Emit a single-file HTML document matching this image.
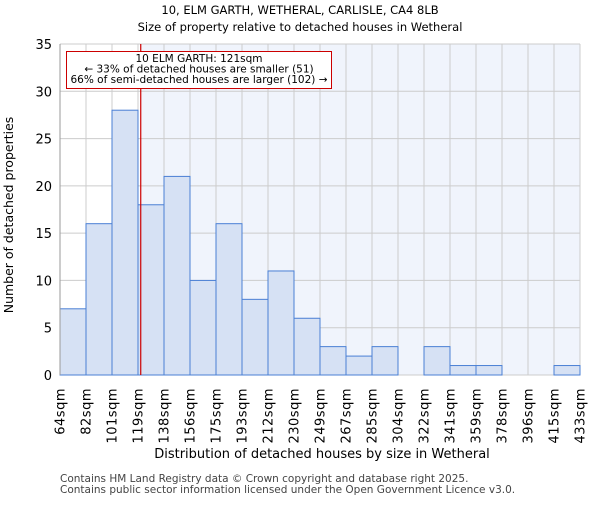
<!DOCTYPE html>
<html><head><meta charset="utf-8"><style>body{margin:0;background:#fff}svg{font-family:"DejaVu Sans","Liberation Sans",sans-serif}</style></head>
<body>
<svg id="c" width="600" height="500" xmlns="http://www.w3.org/2000/svg">
<text x="300" y="14" text-anchor="middle" font-size="11.5">10, ELM GARTH, WETHERAL, CARLISLE, CA4 8LB</text>
<text x="300" y="31" text-anchor="middle" font-size="11.5">Size of property relative to detached houses in Wetheral</text>
<g id="plot"></g>
<text x="322" y="458" text-anchor="middle" font-size="13">Distribution of detached houses by size in Wetheral</text>
<text transform="translate(13,215) rotate(-90)" text-anchor="middle" font-size="12.5">Number of detached properties</text>
<text x="60" y="482" font-size="10.5" fill="#444">Contains HM Land Registry data © Crown copyright and database right 2025.</text>
<text x="60" y="493" font-size="10.5" fill="#444">Contains public sector information licensed under the Open Government Licence v3.0.</text>
</svg>
<script>
const categories=["64sqm","82sqm","101sqm","119sqm","138sqm","156sqm","175sqm","193sqm","212sqm","230sqm","249sqm","267sqm","285sqm","304sqm","322sqm","341sqm","359sqm","378sqm","396sqm","415sqm","433sqm"];
const counts=[7,16,28,18,21,10,16,8,11,6,3,2,3,0,3,1,1,0,0,1];
const yTicks=[0,5,10,15,20,25,30,35];
const subjectSize=121;
const binEdges=[64,82,101,119,138,156,175,193,212,230,249,267,285,304,322,341,359,378,396,415,433];
const L=60,R=580,T=44,B=375,yMax=35;
const NS="http://www.w3.org/2000/svg";
const g=document.getElementById('plot');
const bw=(R-L)/counts.length;
const x=i=>L+i*bw;
const y=v=>B-(v/yMax)*(B-T);
function xv(v){for(let i=0;i<binEdges.length-1;i++){if(v>=binEdges[i]&&v<=binEdges[i+1])return x(i)+(v-binEdges[i])/(binEdges[i+1]-binEdges[i])*bw;}return L;}
function mk(t,a){const e=document.createElementNS(NS,t);for(const k in a)e.setAttribute(k,a[k]);g.appendChild(e);return e;}
const sx=xv(subjectSize);
let e;
e=mk('rect',{x:L,y:T,width:sx-L,height:B-T,fill:'#fff'});


e=mk('rect',{x:sx,y:T,width:R-sx,height:B-T,fill:'#f0f4fc'});


yTicks.forEach(v=>{
 e=mk('line',{x1:L,x2:R,y1:y(v),y2:y(v),stroke:'#ccc','stroke-width':1});
 
 
 e=mk('text',{x:L-8,y:y(v)+5,'text-anchor':'end','font-size':13});
 e.textContent=v;
 
 
});
categories.forEach((c,i)=>{
 e=mk('line',{x1:x(i),x2:x(i),y1:T,y2:B,stroke:'#ccc','stroke-width':1});
 
 
 e=mk('text',{transform:`translate(${x(i)+4.5},${B+13}) rotate(-90)`,'text-anchor':'end','font-size':13,'letter-spacing':'0.5'});
 e.textContent=c;
 
 
});
counts.forEach((v,i)=>{
 if(v<=0)return;
 e=mk('rect',{x:x(i),y:y(v),width:bw,height:B-y(v),fill:'#d6e1f4',stroke:'#4a7fd4','stroke-width':1});
 
 
});
e=mk('line',{x1:L,x2:L,y1:T,y2:B,stroke:'#999'});


e=mk('line',{x1:sx,x2:sx,y1:T,y2:B,stroke:'#cc0000','stroke-width':1.2});


e=mk('rect',{x:66.5,y:51.5,width:265,height:37,fill:'#fff',stroke:'#cc0000','stroke-width':1});


["10 ELM GARTH: 121sqm","← 33% of detached houses are smaller (51)","66% of semi-detached houses are larger (102) →"].forEach((s,i)=>{
 e=mk('text',{x:199,y:62+i*10.5,'text-anchor':'middle','font-size':10.5});
 e.textContent=s;
 
 
});
</script>
</body></html>
